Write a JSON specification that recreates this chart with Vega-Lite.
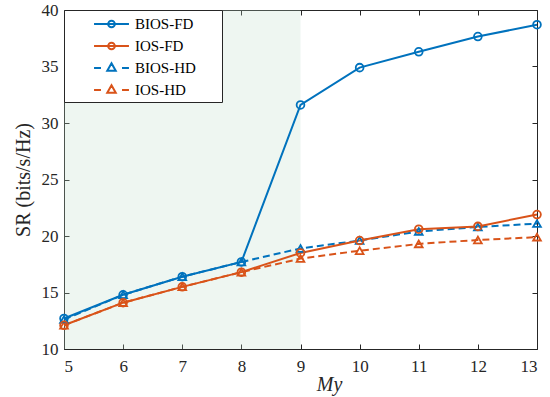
{
  "$schema": "https://vega.github.io/schema/vega-lite/v6.json",
  "width": 473,
  "height": 339,
  "autosize": {"type": "none"},
  "padding": {"left": 64, "top": 10, "right": 13, "bottom": 48},
  "background": "white",
  "config": {
    "view": {"stroke": null},
    "font": "Liberation Serif",
    "axis": {
      "labelFont": "Liberation Serif",
      "labelFontSize": 17,
      "labelColor": "#262626",
      "titleFont": "Liberation Serif",
      "titleFontSize": 20,
      "titleFontWeight": "normal",
      "titleColor": "#262626",
      "domainColor": "#262626",
      "domainWidth": 1,
      "tickColor": "#262626",
      "tickSize": -5,
      "gridColor": "#e2e2e2",
      "gridWidth": 1
    },
    "legend": {
      "labelFont": "Liberation Serif",
      "labelFontSize": 15,
      "labelColor": "#000000"
    }
  },
  "datasets": {
    "sr": [
      {"series": "BIOS-FD", "M": 5, "SR": 12.7},
      {"series": "BIOS-FD", "M": 6, "SR": 14.8},
      {"series": "BIOS-FD", "M": 7, "SR": 16.4},
      {"series": "BIOS-FD", "M": 8, "SR": 17.7},
      {"series": "BIOS-FD", "M": 9, "SR": 31.6},
      {"series": "BIOS-FD", "M": 10, "SR": 34.9},
      {"series": "BIOS-FD", "M": 11, "SR": 36.3},
      {"series": "BIOS-FD", "M": 12, "SR": 37.65},
      {"series": "BIOS-FD", "M": 13, "SR": 38.7},
      {"series": "IOS-FD", "M": 5, "SR": 12.1},
      {"series": "IOS-FD", "M": 6, "SR": 14.1},
      {"series": "IOS-FD", "M": 7, "SR": 15.5},
      {"series": "IOS-FD", "M": 8, "SR": 16.8},
      {"series": "IOS-FD", "M": 9, "SR": 18.5},
      {"series": "IOS-FD", "M": 10, "SR": 19.6},
      {"series": "IOS-FD", "M": 11, "SR": 20.6},
      {"series": "IOS-FD", "M": 12, "SR": 20.85},
      {"series": "IOS-FD", "M": 13, "SR": 21.9},
      {"series": "BIOS-HD", "M": 5, "SR": 12.6},
      {"series": "BIOS-HD", "M": 6, "SR": 14.8},
      {"series": "BIOS-HD", "M": 7, "SR": 16.4},
      {"series": "BIOS-HD", "M": 8, "SR": 17.7},
      {"series": "BIOS-HD", "M": 9, "SR": 18.9},
      {"series": "BIOS-HD", "M": 10, "SR": 19.6},
      {"series": "BIOS-HD", "M": 11, "SR": 20.4},
      {"series": "BIOS-HD", "M": 12, "SR": 20.8},
      {"series": "BIOS-HD", "M": 13, "SR": 21.1},
      {"series": "IOS-HD", "M": 5, "SR": 12.1},
      {"series": "IOS-HD", "M": 6, "SR": 14.1},
      {"series": "IOS-HD", "M": 7, "SR": 15.5},
      {"series": "IOS-HD", "M": 8, "SR": 16.8},
      {"series": "IOS-HD", "M": 9, "SR": 18.0},
      {"series": "IOS-HD", "M": 10, "SR": 18.7},
      {"series": "IOS-HD", "M": 11, "SR": 19.3},
      {"series": "IOS-HD", "M": 12, "SR": 19.65},
      {"series": "IOS-HD", "M": 13, "SR": 19.9}
    ]
  },
  "layer": [
    {
      "data": {"values": [{"start": 5, "end": 9}]},
      "mark": {"type": "rect", "color": "#bcdcc6", "opacity": 0.25},
      "encoding": {
        "x": {"field": "start", "type": "quantitative", "scale": {"domain": [5, 13], "nice": false},
              "axis": {"orient": "top", "labels": false, "grid": false, "title": null, "values": [5,6,7,8,9,10,11,12,13]}},
        "x2": {"field": "end"},
        "y": {"datum": 10, "type": "quantitative", "scale": {"domain": [10, 40], "nice": false},
              "axis": {"orient": "right", "labels": false, "grid": false, "title": null, "values": [10,15,20,25,30,35,40]}},
        "y2": {"datum": 40}
      }
    },
    {
      "data": {"name": "sr"},
      "transform": [{"filter": "indexof(datum.series, 'HD') >= 0"}],
      "mark": {"type": "line", "strokeWidth": 2, "strokeDash": [7, 4]},
      "encoding": {
        "x": {"field": "M", "type": "quantitative", "scale": {"domain": [5, 13], "nice": false},
              "axis": {"values": [5,6,7,8,9,10,11,12,13], "title": "My", "titleFontStyle": "italic", "labelPadding": 14, "titlePadding": 0, "titleX": 265}},
        "y": {"field": "SR", "type": "quantitative", "scale": {"domain": [10, 40], "nice": false},
              "axis": {"values": [10,15,20,25,30,35,40], "title": "SR (bits/s/Hz)", "labelPadding": 11, "titlePadding": 8}},
        "color": {
          "field": "series", "type": "nominal",
          "scale": {"domain": ["BIOS-FD", "IOS-FD", "BIOS-HD", "IOS-HD"], "range": ["#0072BD", "#D95319", "#0072BD", "#D95319"]},
          "legend": {
            "title": null,
            "orient": "top-left",
            "offset": 0,
            "fillColor": "white",
            "strokeColor": "#262626",
            "padding": 4,
            "rowPadding": 4,
            "symbolSize": 324,
            "symbolOffset": 33.5,
            "symbolStrokeWidth": 2,
            "symbolFillColor": "transparent",
            "symbolType": "M-1.94,0L1.94,0",
            "labelOffset": 13.5,
            "labelExpr": "datum.label + '\u2800\u2800'",
            "encode": {
              "symbols": {
                "update": {
                  "shape": {"signal": "indexof(datum.value,'HD')>=0 ? 'M-1.94,0L-1.17,0M1.17,0L1.94,0M0,-0.52L0.47,0.3L-0.47,0.3Z' : 'M-1.94,0L1.94,0M0.37,0A0.37,0.37,0,1,1,-0.37,0A0.37,0.37,0,1,1,0.37,0'"},
                  "fill": {"value": "transparent"}
                }
              }
            }
          }
        }
      }
    },
    {
      "data": {"name": "sr"},
      "transform": [{"filter": "indexof(datum.series, 'FD') >= 0"}],
      "mark": {"type": "line", "strokeWidth": 2},
      "encoding": {
        "x": {"field": "M", "type": "quantitative", "axis": null},
        "y": {"field": "SR", "type": "quantitative", "axis": null},
        "color": {"field": "series", "type": "nominal", "legend": null}
      }
    },
    {
      "data": {"name": "sr"},
      "transform": [{"filter": "indexof(datum.series, 'HD') >= 0"}],
      "mark": {"type": "point", "shape": "triangle-up", "filled": false, "strokeWidth": 1.8, "size": 60, "opacity": 1},
      "encoding": {
        "x": {"field": "M", "type": "quantitative", "axis": null},
        "y": {"field": "SR", "type": "quantitative", "axis": null},
        "color": {"field": "series", "type": "nominal", "legend": null}
      }
    },
    {
      "data": {"name": "sr"},
      "transform": [{"filter": "indexof(datum.series, 'FD') >= 0"}],
      "mark": {"type": "point", "shape": "circle", "filled": false, "strokeWidth": 1.8, "size": 60, "opacity": 1},
      "encoding": {
        "x": {"field": "M", "type": "quantitative", "axis": null},
        "y": {"field": "SR", "type": "quantitative", "axis": null},
        "color": {"field": "series", "type": "nominal", "legend": null}
      }
    }
  ],
  "resolve": {"axis": {"x": "independent", "y": "independent"}}
}
